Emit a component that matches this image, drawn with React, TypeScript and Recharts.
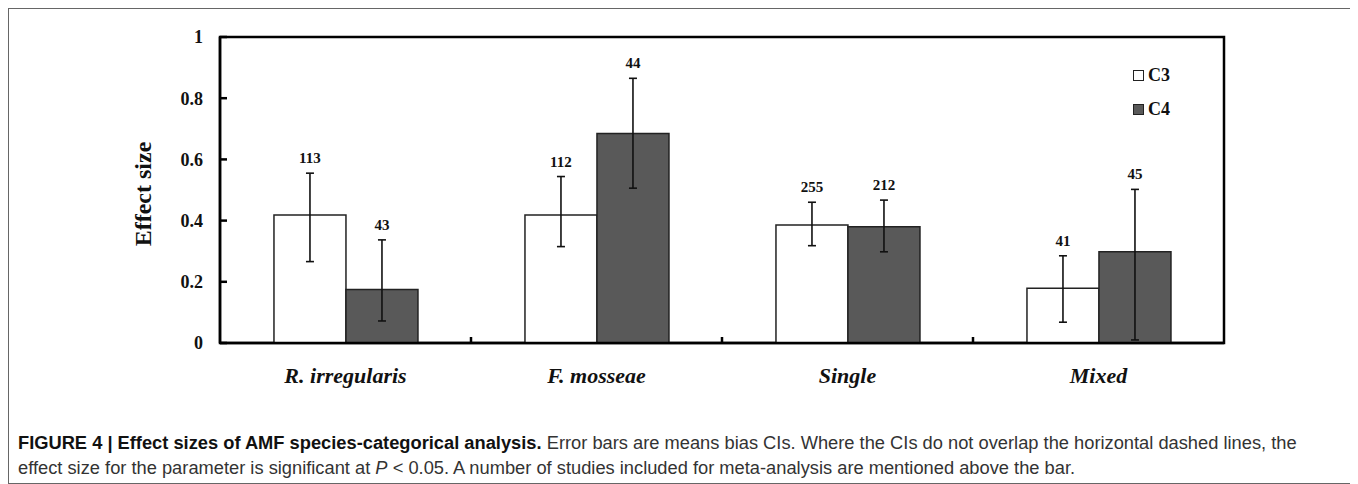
import {
  Bar,
  BarChart,
  ErrorBar,
  LabelList,
  Legend,
  ReferenceArea,
  XAxis,
  YAxis,
} from "recharts";

const categories = ["R. irregularis", "F. mosseae", "Single", "Mixed"];

const c3Mean = [0.418, 0.418, 0.386, 0.179];
const c3Low = [0.266, 0.315, 0.318, 0.068];
const c3High = [0.555, 0.544, 0.46, 0.285];
const c3Count = [113, 112, 255, 41];

const c4Mean = [0.175, 0.685, 0.38, 0.298];
const c4Low = [0.072, 0.506, 0.298, 0.01];
const c4High = [0.337, 0.865, 0.467, 0.502];
const c4Count = [43, 44, 212, 45];

const yTicks = [0, 0.2, 0.4, 0.6, 0.8, 1];

const CHART_W = 1346;
const CHART_H = 400;
const MARGIN = { top: 28, right: 131, bottom: 0, left: 0 };
const Y_AXIS_W = 211;
const PLOT_W = CHART_W - MARGIN.left - MARGIN.right - Y_AXIS_W;
const BAND = PLOT_W / categories.length;

const SERIF = '"Liberation Serif", "Times New Roman", serif';
const SANS = '"Liberation Sans", Arial, Helvetica, sans-serif';
const DARK = "#595959";

const chartData = categories.map((name, i) => ({
  name,
  c3: c3Mean[i],
  c4: c4Mean[i],
  c3Err: [c3Mean[i] - c3Low[i], c3High[i] - c3Mean[i]],
  c4Err: [c4Mean[i] - c4Low[i], c4High[i] - c4Mean[i]],
  c3N: c3Count[i],
  c4N: c4Count[i],
}));

function YTick({ x, y, payload }: any) {
  return (
    <g>
      <line x1={x + 17} x2={x + 24} y1={y} y2={y} stroke="#000" strokeWidth={2.5} />
      <text
        x={x}
        y={y}
        dy="0.35em"
        textAnchor="end"
        fontFamily={SERIF}
        fontWeight="bold"
        fontSize={18}
        fill="#111"
      >
        {payload.value}
      </text>
    </g>
  );
}

function XTick({ x, y, payload, index }: any) {
  return (
    <g>
      {index < categories.length - 1 && (
        <line
          x1={x + BAND / 2}
          x2={x + BAND / 2}
          y1={y}
          y2={y - 6}
          stroke="#000"
          strokeWidth={2.5}
        />
      )}
      <text
        x={x}
        y={y + 40}
        textAnchor="middle"
        fontFamily={SERIF}
        fontWeight="bold"
        fontStyle="italic"
        fontSize={22}
        fill="#111"
      >
        {payload.value}
      </text>
    </g>
  );
}

// count of studies, drawn just above the top of the error bar
function countLabel(means: number[], highs: number[]) {
  return (props: any) => {
    const { x, y, width, height, value, index } = props;
    const perUnit = Number(height) / means[index];
    const top = Number(y) + Number(height) - highs[index] * perUnit;
    return (
      <text
        x={Number(x) + Number(width) / 2}
        y={top - 10}
        textAnchor="middle"
        fontFamily={SERIF}
        fontWeight="bold"
        fontSize={15}
        fill="#111"
      >
        {value}
      </text>
    );
  };
}

function LegendBox({ payload }: any) {
  return (
    <div style={{ fontFamily: SERIF, fontWeight: "bold", fontSize: 18 }}>
      {(payload ?? []).map((item: any) => (
        <div
          key={item.value}
          style={{ display: "flex", alignItems: "center", height: 20, marginBottom: 14 }}
        >
          <span
            style={{
              width: 9,
              height: 9,
              border: "1px solid #222",
              background: item.color,
              marginRight: 4,
            }}
          />
          <span style={{ color: "#111" }}>{item.value}</span>
        </div>
      ))}
    </div>
  );
}

export default function App() {
  return (
    <div
      style={{
        position: "relative",
        width: 1346,
        height: 474,
        border: "1px solid #666",
        background: "#fff",
      }}
    >
      <div style={{ position: "absolute", left: 0, top: 0 }}>
        <BarChart
          width={CHART_W}
          height={CHART_H}
          data={chartData}
          margin={MARGIN}
          barGap={0}
          barCategoryGap="21.5%"
        >
          <XAxis
            dataKey="name"
            height={CHART_H - 334}
            axisLine={{ stroke: "#000", strokeWidth: 2.5 }}
            tickLine={false}
            tickSize={0}
            tickMargin={0}
            interval={0}
            tick={<XTick />}
          />
          <YAxis
            type="number"
            domain={[0, 1]}
            ticks={yTicks}
            width={Y_AXIS_W}
            axisLine={{ stroke: "#000", strokeWidth: 2.5 }}
            tickLine={false}
            tickSize={0}
            tickMargin={17}
            tick={<YTick />}
            label={{
              value: "Effect size",
              content: ({ viewBox }: any) => (
                <text
                  x={134}
                  y={viewBox.y + viewBox.height / 2 + 4}
                  transform={`rotate(-90 134 ${viewBox.y + viewBox.height / 2 + 4})`}
                  textAnchor="middle"
                  dominantBaseline="central"
                  fontFamily={SERIF}
                  fontWeight="bold"
                  fontSize={24}
                  fill="#111"
                >
                  Effect size
                </text>
              ),
            }}
          />
          <ReferenceArea y1={0} y2={1} fill="none" stroke="#000" strokeWidth={2.5} />
          <Legend
            layout="vertical"
            align="center"
            verticalAlign="middle"
            wrapperStyle={{ top: 56, left: 1124, width: 60 }}
            content={<LegendBox />}
          />
          <Bar
            dataKey="c3"
            name="C3"
            fill="#ffffff"
            stroke="#222"
            strokeWidth={1.5}
            isAnimationActive={false}
          >
            <ErrorBar dataKey="c3Err" direction="y" width={4} stroke="#111" strokeWidth={1.6} />
            <LabelList dataKey="c3N" content={countLabel(c3Mean, c3High)} />
          </Bar>
          <Bar
            dataKey="c4"
            name="C4"
            fill={DARK}
            stroke="#222"
            strokeWidth={1.5}
            isAnimationActive={false}
          >
            <ErrorBar dataKey="c4Err" direction="y" width={4} stroke="#111" strokeWidth={1.6} />
            <LabelList dataKey="c4N" content={countLabel(c4Mean, c4High)} />
          </Bar>
        </BarChart>
      </div>
      <div
        style={{
          position: "absolute",
          left: 9,
          top: 421,
          fontFamily: SANS,
          fontSize: 18.3,
          lineHeight: "25px",
          color: "#333",
          whiteSpace: "nowrap",
        }}
      >
        <div>
          <b style={{ color: "#111" }}>
            FIGURE 4 | Effect sizes of AMF species-categorical analysis.
          </b>{" "}
          Error bars are means bias CIs. Where the CIs do not overlap the horizontal
          dashed lines, the
        </div>
        <div>
          effect size for the parameter is significant at <i>P</i> &lt; 0.05. A number
          of studies included for meta-analysis are mentioned above the bar.
        </div>
      </div>
    </div>
  );
}
